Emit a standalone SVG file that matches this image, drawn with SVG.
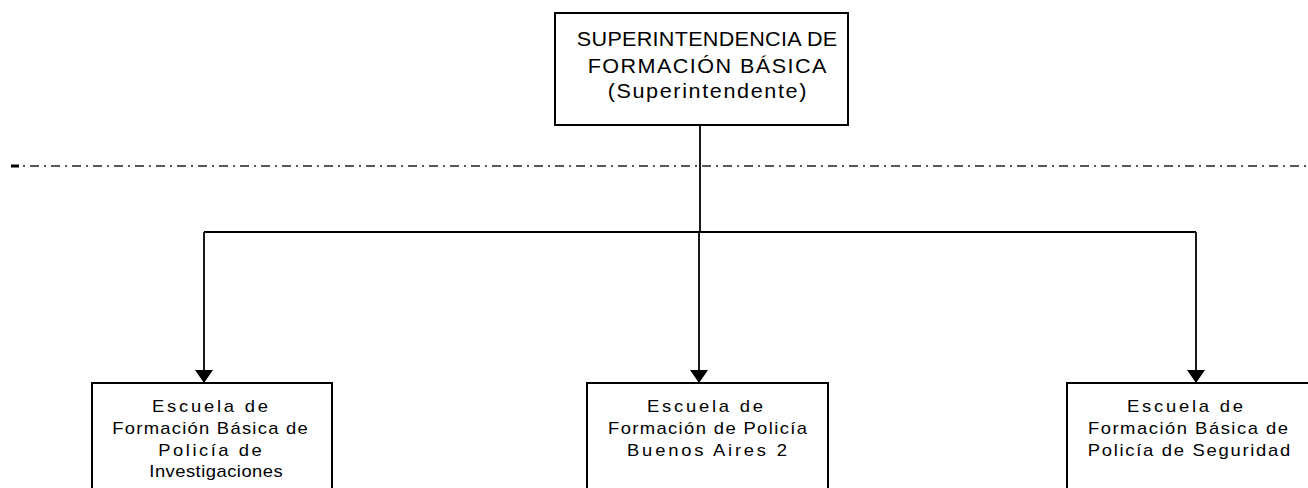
<svg xmlns="http://www.w3.org/2000/svg" width="1308" height="488" viewBox="0 0 1308 488">
<style>
.box{fill:#fff;stroke:#000;stroke-width:2}
.t1{font-family:"Liberation Sans",Arial,sans-serif;font-size:20px;fill:#000;text-anchor:middle}
.t2{font-family:"Liberation Sans",Arial,sans-serif;font-size:16px;fill:#000;text-anchor:middle}
.ln{fill:none;stroke:#000;stroke-width:1.8}
</style>
<defs>
<marker id="arr" markerWidth="14" markerHeight="20" refX="13" refY="9" orient="auto" markerUnits="userSpaceOnUse">
<path d="M0,0 L13,9 L0,18 Z" fill="#000"/>
</marker>
</defs>
<rect width="1308" height="488" fill="#fff"/>
<g id="divider">
<line x1="11" y1="166" x2="19" y2="166" stroke="#000" stroke-width="3"/>
<line x1="23" y1="166" x2="1306" y2="166" stroke="#222" stroke-width="1.6" stroke-dasharray="2 5 9 5"/>
</g>
<g id="connectors">
<polyline class="ln" points="700,125 700,232"/>
<polyline class="ln" points="204,232 1196,232"/>
<line class="ln" x1="204" y1="232" x2="204" y2="383" marker-end="url(#arr)"/>
<line class="ln" x1="699" y1="232" x2="699" y2="383" marker-end="url(#arr)"/>
<line class="ln" x1="1196" y1="232" x2="1196" y2="383" marker-end="url(#arr)"/>
</g>
<g id="superintendencia">
<rect class="box" x="555" y="13" width="293" height="112"/>
<text class="t1" x="0" y="46" transform="translate(707 0) scale(1.08 1)" textLength="241" lengthAdjust="spacing">SUPERINTENDENCIA DE</text>
<text class="t1" x="0" y="73" transform="translate(707 0) scale(1.08 1)" textLength="221" lengthAdjust="spacing">FORMACIÓN BÁSICA</text>
<text class="t1" x="0" y="98.5" transform="translate(707 0) scale(1.08 1)" textLength="184" lengthAdjust="spacing">(Superintendente)</text>
</g>
<g id="escuela-investigaciones">
<rect class="box" x="92" y="383" width="240" height="120"/>
<text class="t2" x="0" y="412" transform="translate(210 0) scale(1.15 1)" textLength="101" lengthAdjust="spacing">Escuela de</text>
<text class="t2" x="0" y="434" transform="translate(210 0) scale(1.15 1)" textLength="170" lengthAdjust="spacing">Formación Básica de</text>
<text class="t2" x="0" y="456" transform="translate(210 0) scale(1.15 1)" textLength="90" lengthAdjust="spacing">Policía de</text>
<text class="t2" x="0" y="477" transform="translate(216 0) scale(1.15 1)" textLength="116" lengthAdjust="spacing">Investigaciones</text>
</g>
<g id="escuela-buenos-aires">
<rect class="box" x="587" y="383" width="241" height="120"/>
<text class="t2" x="0" y="412" transform="translate(705 0) scale(1.15 1)" textLength="101" lengthAdjust="spacing">Escuela de</text>
<text class="t2" x="0" y="434" transform="translate(707.5 0) scale(1.15 1)" textLength="173" lengthAdjust="spacing">Formación de Policía</text>
<text class="t2" x="0" y="456" transform="translate(707 0) scale(1.15 1)" textLength="139" lengthAdjust="spacing">Buenos Aires 2</text>
</g>
<g id="escuela-seguridad">
<rect class="box" x="1067" y="383" width="242" height="120"/>
<text class="t2" x="0" y="412" transform="translate(1185 0) scale(1.15 1)" textLength="101" lengthAdjust="spacing">Escuela de</text>
<text class="t2" x="0" y="434" transform="translate(1188 0) scale(1.15 1)" textLength="174" lengthAdjust="spacing">Formación Básica de</text>
<text class="t2" x="0" y="456" transform="translate(1189 0) scale(1.15 1)" textLength="176" lengthAdjust="spacing">Policía de Seguridad</text>
</g>
</svg>
